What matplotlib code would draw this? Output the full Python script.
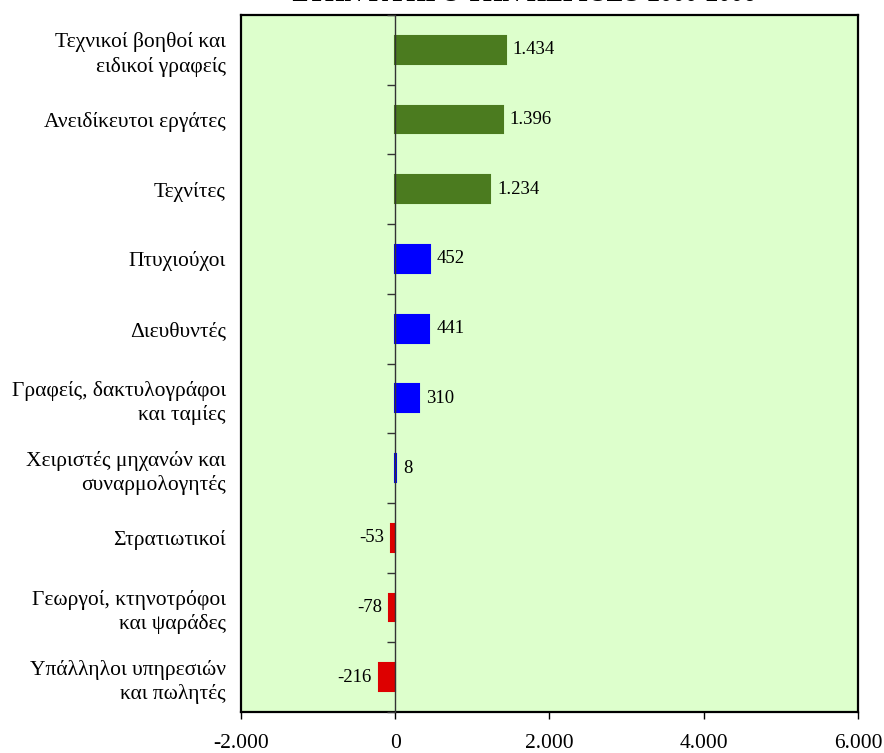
import matplotlib
matplotlib.use("Agg")
import matplotlib.pyplot as plt
from matplotlib.ticker import FuncFormatter

categories = [
    "Τεχνικοί βοηθοί και\nειδικοί γραφείς",
    "Ανειδίκευτοι εργάτες",
    "Τεχνίτες",
    "Πτυχιούχοι",
    "Διευθυντές",
    "Γραφείς, δακτυλογράφοι\nκαι ταμίες",
    "Χειριστές μηχανών και\nσυναρμολογητές",
    "Στρατιωτικοί",
    "Γεωργοί, κτηνοτρόφοι\nκαι ψαράδες",
    "Υπάλληλοι υπηρεσιών\nκαι πωλητές",
]
values = [1434, 1396, 1234, 452, 441, 310, 8, -53, -78, -216]
groups = ["g", "g", "g", "b", "b", "b", "b", "r", "r", "r"]
title = "ΣΤΗΝ ΚΥΠΡΟ ΤΗΝ ΠΕΡΙΟΔΟ 2000-2006"

palette = {"g": "#4b7b1f", "b": "#0000ff", "r": "#dd0000"}
colors = [palette[g] for g in groups]

plt.rcParams["font.family"] = ["Liberation Serif", "DejaVu Serif"]

W, H = 884, 753
fig = plt.figure(figsize=(W / 100, H / 100), dpi=100)
L, R, T, B = 241, 858, 15, 712
ax = fig.add_axes([L / W, (H - B) / H, (R - L) / W, (B - T) / H])
ax.set_facecolor("#ddffcc")

ypos = list(range(len(categories)))
ax.barh(ypos, values, height=0.40, color=colors, edgecolor=colors,
        linewidth=1.5, zorder=3)

ax.set_xlim(-2000, 6000)
ax.set_ylim(len(categories) - 0.5, -0.5)

def fmt(v, pos=None):
    s = f"{abs(int(round(v))):,}".replace(",", ".")
    return ("-" if v < 0 else "") + s

ax.xaxis.set_major_formatter(FuncFormatter(fmt))
ax.set_xticks([-2000, 0, 2000, 4000, 6000])
ax.tick_params(axis="x", direction="out", length=5, width=1, labelsize=15.5, pad=11)

ax.set_yticks(ypos)
ax.set_yticklabels(categories, fontsize=15.5, linespacing=1.3)
ax.tick_params(axis="y", length=0, pad=11)
for lab in ax.get_yticklabels():
    lab.set_horizontalalignment("right")

for s in ax.spines.values():
    s.set_linewidth(1.6)
    s.set_color("black")

# zero axis with category separator ticks
sec = ax.secondary_yaxis(0.25)
sec.set_yticks([i + 0.5 for i in range(-1, len(categories))])
sec.set_yticklabels([])
sec.tick_params(axis="y", direction="out", length=6, width=1, color="#333333")
sec.spines["left"].set_color("#333333")
sec.spines["left"].set_linewidth(1)
sec.set_zorder(4)

for y, v in zip(ypos, values):
    if v >= 0:
        ax.annotate(fmt(v), (v, y), xytext=(5, 0), textcoords="offset points",
                    ha="left", va="center", fontsize=13.5, zorder=5)
    else:
        ax.annotate(fmt(v), (v, y), xytext=(-5, 0), textcoords="offset points",
                    ha="right", va="center", fontsize=13.5, zorder=5)

fig.text(524 / W, 1 - 6 / H, title, ha="center", va="bottom",
         fontsize=18, fontweight="bold")

fig.savefig("out.png", dpi=100)
